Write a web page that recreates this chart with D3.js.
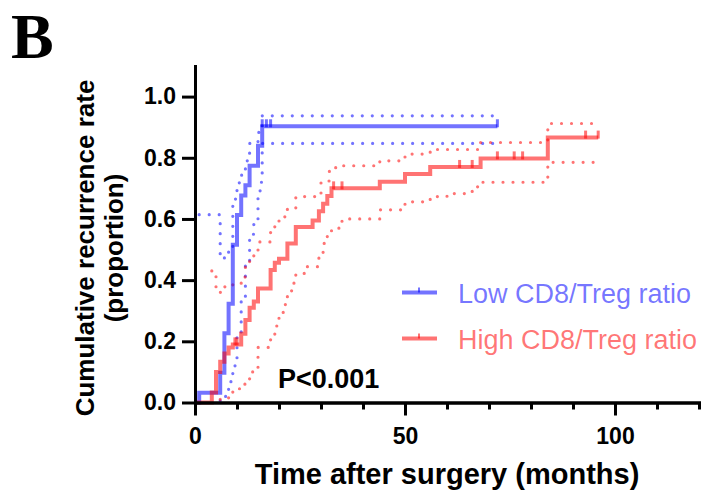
<!DOCTYPE html>
<html>
<head>
<meta charset="utf-8">
<script src="https://cdn.jsdelivr.net/npm/d3@7"></script>
<style>
  body { margin: 0; background: #fff; }
  text { font-family: Arial, "Liberation Sans", sans-serif; }
</style>
</head>
<body>
<div id="chart"></div>
<script>
// Low CD8/Treg ratio: step times (months) and cumulative recurrence after each step
var lowTimes = [0, 1, 6, 7, 8, 9, 10, 11, 12, 13, 15, 16];
var lowRates = [0, 0.032, 0.097, 0.226, 0.323, 0.516, 0.613, 0.677, 0.71, 0.774, 0.839, 0.903];
var lowEnd = 72;
var lowCensor = [16, 17, 18, 72];
// 95% CI of the low group
var lowUpperTimes = [1, 6, 7, 8, 9, 10, 11, 12, 13, 15, 16];
var lowUpperRates = [0.614, 0.47, 0.49, 0.5, 0.665, 0.718, 0.743, 0.79, 0.847, 0.883, 0.937];
var lowLowerTimes = [6, 7, 8, 9, 10, 11, 12, 13, 14, 15, 15.5, 16];
var lowLowerRates = [0.005, 0.02, 0.068, 0.12, 0.22, 0.33, 0.45, 0.55, 0.6, 0.667, 0.72, 0.847];

// High CD8/Treg ratio
var highTimes = [0, 4, 5, 6, 7, 8, 9, 11, 12, 13, 14, 15, 18, 19, 20, 22, 24, 28, 29.5, 30.5, 31.5, 32.5, 44, 50, 56, 68, 84];
var highRates = [0, 0.033, 0.1, 0.133, 0.16, 0.18, 0.19, 0.225, 0.27, 0.31, 0.33, 0.373, 0.433, 0.457, 0.47, 0.52, 0.574, 0.595, 0.625, 0.65, 0.675, 0.7, 0.722, 0.747, 0.77, 0.798, 0.866];
var highEnd = 96;
var highCensor = [9.5, 10, 33, 35, 63, 66, 72, 76, 78, 93, 96];
var highUpperTimes = [4, 5, 6, 7, 9, 11, 12, 13, 14, 15, 18, 19, 20, 22, 24, 30, 32, 33.5, 44, 50, 56, 68, 84];
var highUpperRates = [0.43, 0.378, 0.36, 0.378, 0.39, 0.41, 0.446, 0.466, 0.49, 0.525, 0.558, 0.58, 0.607, 0.635, 0.673, 0.724, 0.757, 0.774, 0.79, 0.812, 0.827, 0.85, 0.912];
var highLowerTimes = [6, 8, 9, 11, 13, 15, 18, 19, 20, 21, 22, 23, 24, 26, 29.5, 30.5, 31.5, 32.5, 35, 44, 50, 56, 60, 66, 68, 84];
var highLowerRates = [0.01, 0.03, 0.045, 0.06, 0.1, 0.18, 0.22, 0.25, 0.29, 0.32, 0.36, 0.39, 0.42, 0.444, 0.49, 0.52, 0.55, 0.57, 0.6, 0.63, 0.656, 0.673, 0.683, 0.705, 0.72, 0.785];

// Axis ticks
var xMajorTicks = [0, 50, 100];
var xMinorTicks = [0, 10, 20, 30, 40, 50, 60, 70, 80, 90, 100, 110, 120];
var yTicks = [0, 0.2, 0.4, 0.6, 0.8, 1.0];

var legendLabels = ["Low CD8/Treg ratio", "High CD8/Treg ratio"];

var blue = "rgba(0,0,255,0.55)";
var red = "rgba(255,0,0,0.55)";

var svgWidth = 704;
var svgHeight = 493;

var svg = d3.select("#chart")
  .append("svg")
  .attr("width", svgWidth)
  .attr("height", svgHeight);

var xScale = d3.scaleLinear().domain([0, 120]).range([195, 699]);
var yScale = d3.scaleLinear().domain([0, 1.1]).range([402.5, 66]);

// build step points from times + rates, extended to end time
function steps(times, rates, end) {
  var pts = times.map((t, i) => [t, rates[i]]);
  pts.push([end, rates[rates.length - 1]]);
  return pts;
}

function valueAt(times, rates, t) {
  var i = d3.bisectRight(times, t) - 1;
  return rates[Math.max(i, 0)];
}

var stepLine = d3.line()
  .x(d => xScale(d[0]))
  .y(d => yScale(d[1]))
  .curve(d3.curveStepAfter);

// Confidence bands (dotted)
var bands = [
  [steps(lowUpperTimes, lowUpperRates, lowEnd), blue],
  [steps(lowLowerTimes, lowLowerRates, lowEnd), blue],
  [steps(highUpperTimes, highUpperRates, highEnd), red],
  [steps(highLowerTimes, highLowerRates, highEnd), red]
];
svg.append("g").selectAll("path")
  .data(bands)
  .enter()
  .append("path")
  .attr("d", d => stepLine(d[0]))
  .attr("fill", "none")
  .attr("stroke", d => d[1])
  .attr("stroke-width", 3.2)
  .attr("stroke-linecap", "round")
  .attr("stroke-dasharray", "0 10");

// Main curves
var curves = [
  [steps(lowTimes, lowRates, lowEnd), blue],
  [steps(highTimes, highRates, highEnd), red]
];
svg.append("g").selectAll("path")
  .data(curves)
  .enter()
  .append("path")
  .attr("d", d => stepLine(d[0]))
  .attr("fill", "none")
  .attr("stroke", d => d[1])
  .attr("stroke-width", 4);

// Censor ticks
function censorTicks(times, rates, censor, color) {
  svg.append("g").selectAll("line")
    .data(censor)
    .enter()
    .append("line")
    .attr("x1", d => xScale(d))
    .attr("x2", d => xScale(d))
    .attr("y1", d => yScale(valueAt(times, rates, d)) - 7)
    .attr("y2", d => yScale(valueAt(times, rates, d)) + 1)
    .attr("stroke", color)
    .attr("stroke-width", 3);
}
censorTicks(lowTimes, lowRates, lowCensor, blue);
censorTicks(highTimes, highRates, highCensor, red);

// Axes
var xMinor = d3.axisBottom(xScale).tickValues(xMinorTicks).tickSize(7).tickSizeOuter(0).tickFormat("");
var xMajor = d3.axisBottom(xScale).tickValues(xMajorTicks).tickSize(13).tickSizeOuter(0).tickPadding(12);
var yAxis = d3.axisLeft(yScale).tickValues(yTicks).tickSize(13).tickSizeOuter(0).tickPadding(6)
  .tickFormat(d3.format(".1f"));

svg.append("g").attr("transform", "translate(0,402.5)").call(xMinor);
svg.append("g").attr("transform", "translate(0,402.5)").call(xMajor);
svg.append("g").attr("transform", "translate(195,0)").call(yAxis);

svg.selectAll(".domain").attr("stroke", "#000").attr("stroke-width", 3).attr("stroke-linecap", "square");
svg.selectAll(".tick line").attr("stroke", "#000").attr("stroke-width", 3);
svg.selectAll(".tick text")
  .attr("fill", "#000")
  .style("font-size", "23px")
  .style("font-weight", "bold")
  .style("font-family", "Arial, 'Liberation Sans', sans-serif");

// Axis titles
svg.append("text")
  .attr("x", 447)
  .attr("y", 484)
  .attr("text-anchor", "middle")
  .style("font-size", "29px")
  .style("font-weight", "bold")
  .text("Time after surgery (months)");

var yTitle = svg.append("text")
  .attr("transform", "translate(94,248) rotate(-90)")
  .attr("text-anchor", "middle")
  .style("font-size", "26px")
  .style("font-weight", "bold");
yTitle.append("tspan").attr("x", 0).attr("y", 0).text("Cumulative recurrence rate");
yTitle.append("tspan").attr("x", 0).attr("y", 29).text("(proportion)");

// Legend
var legend = svg.append("g").selectAll("g")
  .data(legendLabels)
  .enter()
  .append("g")
  .attr("transform", (d, i) => `translate(0, ${292.5 + i * 46})`);
legend.append("line")
  .attr("x1", 402).attr("x2", 437)
  .attr("stroke", (d, i) => i === 0 ? blue : red)
  .attr("stroke-width", 4);
legend.append("line")
  .attr("x1", 419).attr("x2", 419).attr("y1", -5).attr("y2", 0)
  .attr("stroke", (d, i) => i === 0 ? blue : red)
  .attr("stroke-width", 2);
legend.append("text")
  .attr("x", 458)
  .attr("y", 10)
  .attr("fill", (d, i) => i === 0 ? blue : red)
  .style("font-size", "27px")
  .text(d => d);

// P value
svg.append("text")
  .attr("x", 278)
  .attr("y", 388)
  .style("font-size", "27px")
  .style("font-weight", "bold")
  .text("P<0.001");

// Panel letter
svg.append("text")
  .attr("x", 11)
  .attr("y", 58)
  .style("font-family", "'Liberation Serif', 'Times New Roman', serif")
  .style("font-size", "64px")
  .style("font-weight", "bold")
  .text("B");
</script>
</body>
</html>
